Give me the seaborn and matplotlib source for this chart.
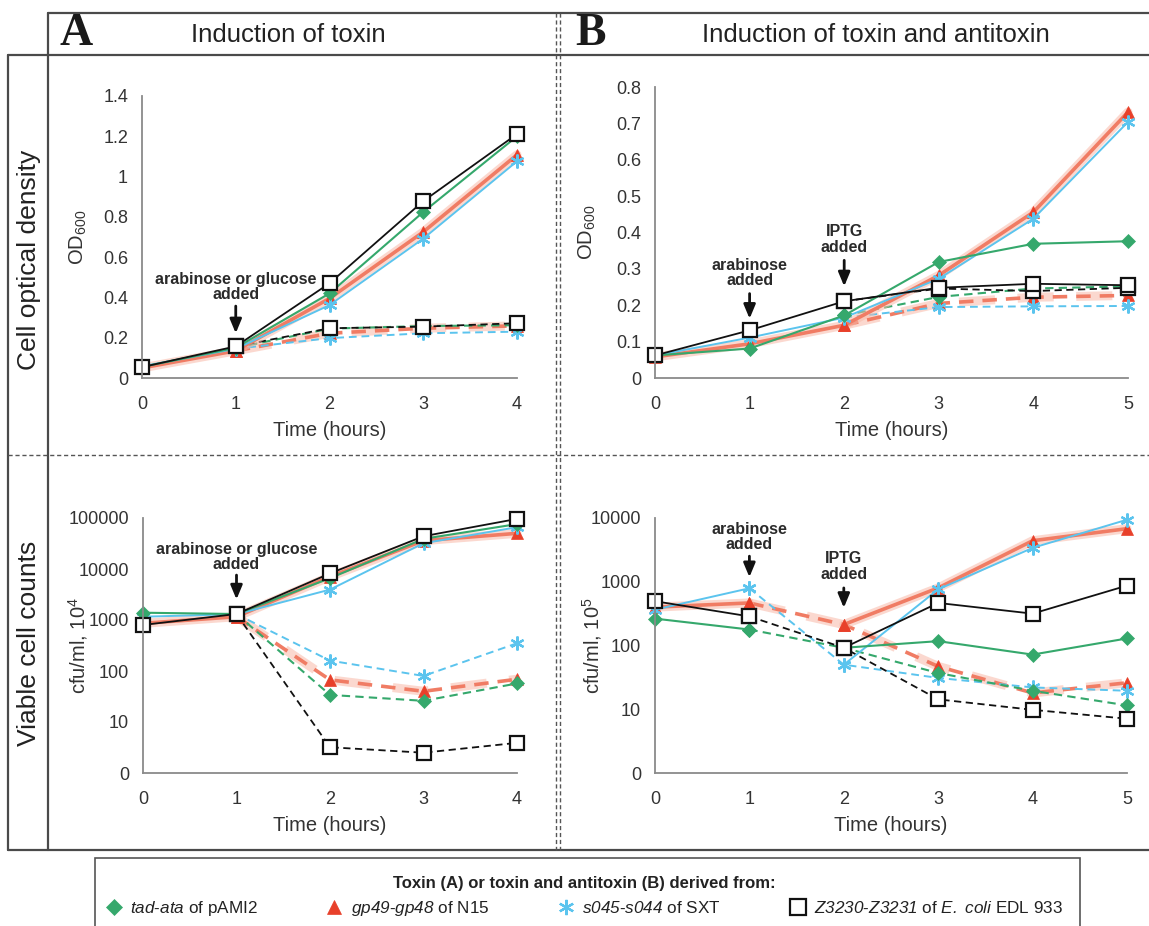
import matplotlib
matplotlib.use('Agg')
import matplotlib.pyplot as plt
import seaborn as sns
from matplotlib.lines import Line2D
from matplotlib.patches import Rectangle

# ---------------- data ----------------
# row order in every table: tad-ata, gp49-gp48, s045-s044, Z3230-Z3231
hours_a = [0, 1, 2, 3, 4]
hours_a_dash = [1, 2, 3, 4]
hours_b = [0, 1, 2, 3, 4, 5]
hours_b_dash = [2, 3, 4, 5]
hours_b_pre = [0, 1]
hours_b_iptg = [2, 3, 4, 5]
hours_b_cfu_dash = [1, 2, 3, 4, 5]

# A: optical density
od_a_solid = [
    [0.055, 0.150, 0.420, 0.824, 1.200],
    [0.050, 0.135, 0.395, 0.725, 1.108],
    [0.058, 0.145, 0.362, 0.692, 1.076],
    [0.054, 0.157, 0.470, 0.878, 1.211],
]
od_a_dash = [
    [0.150, 0.245, 0.258, 0.262],
    [0.135, 0.222, 0.247, 0.259],
    [0.145, 0.198, 0.222, 0.230],
    [0.157, 0.247, 0.255, 0.272],
]

# B: optical density
od_b_solid = [
    [0.062, 0.081, 0.172, 0.319, 0.369, 0.376],
    [0.058, 0.094, 0.145, 0.282, 0.456, 0.731],
    [0.062, 0.111, 0.166, 0.273, 0.438, 0.704],
    [0.062, 0.131, 0.211, 0.248, 0.259, 0.255],
]
od_b_dash = [
    [0.172, 0.223, 0.246, 0.252],
    [0.145, 0.205, 0.222, 0.227],
    [0.166, 0.195, 0.197, 0.198],
    [0.211, 0.246, 0.239, 0.248],
]

# A: viable counts (cfu/ml, x10^4)
cfu_a_solid = [
    [1390, 1310, 6600, 39000, 76000],
    [860, 1160, 7100, 36000, 50000],
    [1160, 1300, 3950, 32000, 66000],
    [800, 1310, 8200, 43900, 96000],
]
cfu_a_dash = [
    [1310, 34, 26, 57],
    [1160, 67, 40, 69],
    [1300, 160, 80, 350],
    [1310, 3.2, 2.5, 3.9],
]

# B: viable counts (cfu/ml, x10^5)
cfu_b_pre = [
    [264, 178],
    [400, 465],
    [365, 790],
    [495, 286],
]
cfu_b_iptg = [
    [92, 117, 72, 129],
    [213, 800, 4400, 6800],
    [50, 760, 3400, 9400],
    [92, 465, 316, 870],
]
cfu_b_dash = [
    [178, 92, 37, 19.5, 11.5],
    [465, 213, 47, 18, 26],
    [790, 50, 31, 22, 19.5],
    [286, 92, 14.3, 9.8, 7.1],
]

legend_labels = [
    r'$\mathsf{tad}$-$\mathsf{ata}$ of pAMI2',
    r'$\mathsf{gp49}$-$\mathsf{gp48}$ of N15',
    r'$\mathsf{s045}$-$\mathsf{s044}$ of SXT',
    r'$\mathsf{Z3230}$-$\mathsf{Z3231}$ of $\mathsf{E.}$ $\mathsf{coli}$ EDL 933',
]

# ---------------- styles ----------------
sns.set_theme(style='white')
plt.rcParams['font.family'] = ['Liberation Sans', 'DejaVu Sans']
plt.rcParams['mathtext.fontset'] = 'custom'
plt.rcParams['mathtext.rm'] = 'Liberation Sans'
plt.rcParams['mathtext.it'] = 'Liberation Sans:italic'
plt.rcParams['mathtext.sf'] = 'Liberation Sans:italic'

GREEN, RED, REDLINE, BLUE, BLACK = '#35a86c', '#e8402a', '#f07c64', '#5bc4ee', '#111111'
styles = [
    dict(color=GREEN, marker='D', markersize=7, markerfacecolor=GREEN,
         markeredgecolor=GREEN, markeredgewidth=0.5, linewidth=1.5),
    dict(color=REDLINE, marker='^', markersize=9, markerfacecolor=RED,
         markeredgecolor=RED, markeredgewidth=0.5, linewidth=2.6),
    dict(color=BLUE, marker=(6, 2, 0), markersize=10, markerfacecolor=BLUE,
         markeredgecolor=BLUE, markeredgewidth=1.6, linewidth=1.4),
    dict(color=BLACK, marker='s', markersize=10, markerfacecolor='white',
         markeredgecolor=BLACK, markeredgewidth=1.6, linewidth=1.3),
]
draw_order = [1, 2, 0, 3]

W, H = 1149, 926
fig = plt.figure(figsize=(W / 100, H / 100), dpi=100)


def fx(px):
    return px / W


def fy(py):
    return 1 - py / H


def add_axes(l, r, t, b):
    return fig.add_axes([fx(l), fy(b), fx(r) - fx(l), fy(t) - fy(b)])


def draw(ax, x, y, i, dashed=False):
    ls = (0, (4, 2.5)) if dashed else '-'
    if i == 1:
        sns.lineplot(x=x, y=y, ax=ax, color='#f9b9a8', linewidth=6.5,
                     linestyle=ls, alpha=0.55, clip_on=False)
    sns.lineplot(x=x, y=y, ax=ax, linestyle=ls, clip_on=False, **styles[i])


def style_axes(ax, xmax):
    sns.despine(ax=ax)
    for s in ('left', 'bottom'):
        ax.spines[s].set_color('#8a8a8a')
        ax.spines[s].set_linewidth(1.3)
    ax.set_xlim(0, xmax)
    ax.set_xticks(range(xmax + 1))
    ax.tick_params(axis='both', direction='out', length=4, width=1.2,
                   color='#8a8a8a', labelsize=13, labelcolor='#333333')
    ax.tick_params(axis='x', pad=9)
    ax.tick_params(axis='y', pad=6)
    ax.set_xlabel('Time (hours)', fontsize=14.5, color='#333333', labelpad=6)
    ax.set_facecolor('none')


def arrow(ax, x, text, text_y, start, tip):
    ax.text(x, text_y, text, ha='center', va='bottom', fontsize=11.5,
            fontweight='bold', color='#2a2a2a', linespacing=1.05)
    ax.annotate('', xy=(x, tip), xytext=(x, start),
                arrowprops=dict(arrowstyle='-|>,head_length=0.6,head_width=0.25',
                                color='#111111', lw=2, shrinkA=0, shrinkB=0,
                                mutation_scale=14))


ax_a1 = add_axes(142, 517, 96, 378)
ax_b1 = add_axes(655, 1128, 87, 378)
ax_a2 = add_axes(143, 517, 518, 773)
ax_b2 = add_axes(655, 1127, 518, 773)

# panel A, OD
for i in draw_order:
    draw(ax_a1, hours_a_dash, od_a_dash[i], i, dashed=True)
for i in draw_order:
    draw(ax_a1, hours_a, od_a_solid[i], i)
style_axes(ax_a1, 4)
ax_a1.set_ylim(0, 1.4)
ax_a1.set_yticks([0, 0.2, 0.4, 0.6, 0.8, 1.0, 1.2, 1.4])
ax_a1.set_yticklabels(['0', '0.2', '0.4', '0.6', '0.8', '1', '1.2', '1.4'])
ax_a1.set_ylabel('OD$_{600}$', fontsize=14.5, color='#333333', va='center')
ax_a1.yaxis.set_label_coords(-0.17, 0.5)
arrow(ax_a1, 1, 'arabinose or glucose\nadded', 0.375, 0.357, 0.222)

# panel B, OD
for i in draw_order:
    draw(ax_b1, hours_b_dash, od_b_dash[i], i, dashed=True)
for i in draw_order:
    draw(ax_b1, hours_b, od_b_solid[i], i)
style_axes(ax_b1, 5)
ax_b1.set_ylim(0, 0.8)
ax_b1.set_yticks([0, 0.1, 0.2, 0.3, 0.4, 0.5, 0.6, 0.7, 0.8])
ax_b1.set_yticklabels(['0', '0.1', '0.2', '0.3', '0.4', '0.5', '0.6', '0.7', '0.8'])
ax_b1.set_ylabel('OD$_{600}$', fontsize=14.5, color='#333333', va='center')
ax_b1.yaxis.set_label_coords(-0.142, 0.5)
arrow(ax_b1, 1, 'arabinose\nadded', 0.247, 0.232, 0.163)
arrow(ax_b1, 2, 'IPTG\nadded', 0.338, 0.3235, 0.252)

log_ticks = [1, 10, 100, 1000, 10000, 100000]
log_labels = ['0', '10', '100', '1000', '10000', '100000']

# panel A, counts
for i in draw_order:
    draw(ax_a2, hours_a_dash, cfu_a_dash[i], i, dashed=True)
for i in draw_order:
    draw(ax_a2, hours_a, cfu_a_solid[i], i)
style_axes(ax_a2, 4)
ax_a2.set_yscale('log')
ax_a2.set_ylim(1, 100000)
ax_a2.set_yticks(log_ticks)
ax_a2.set_yticklabels(log_labels)
ax_a2.minorticks_off()
ax_a2.set_ylabel('cfu/ml, 10$^4$', fontsize=14.5, color='#333333', va='center')
ax_a2.yaxis.set_label_coords(-0.174, 0.5)
arrow(ax_a2, 1, 'arabinose or glucose\nadded', 8600, 7600, 2530)

# panel B, counts
for i in draw_order:
    draw(ax_b2, hours_b_cfu_dash, cfu_b_dash[i], i, dashed=True)
for i in draw_order:
    draw(ax_b2, hours_b_pre, cfu_b_pre[i], i)
    draw(ax_b2, hours_b_iptg, cfu_b_iptg[i], i)
style_axes(ax_b2, 5)
ax_b2.set_yscale('log')
ax_b2.set_ylim(1, 10000)
ax_b2.set_yticks(log_ticks[:5])
ax_b2.set_yticklabels(log_labels[:5])
ax_b2.minorticks_off()
ax_b2.set_ylabel('cfu/ml, 10$^5$', fontsize=14.5, color='#333333', va='center')
ax_b2.yaxis.set_label_coords(-0.133, 0.5)
arrow(ax_b2, 1, 'arabinose\nadded', 2900, 2520, 1180)
arrow(ax_b2, 2, 'IPTG\nadded', 1000, 800, 390)

# ---------------- frame of the figure ----------------
frame = dict(color='#4a4a4a', linewidth=1.6)


def hline(y, x0, x1, **kw):
    fig.add_artist(Line2D([fx(x0), fx(x1)], [fy(y), fy(y)], **kw))


def vline(x, y0, y1, **kw):
    fig.add_artist(Line2D([fx(x), fx(x)], [fy(y0), fy(y1)], **kw))


hline(13, 48, W, **frame)
hline(55, 8, W, **frame)
hline(850, 8, W, **frame)
vline(8, 55, 850, **frame)
vline(48, 13, 850, **frame)
dotted = dict(color='#555555', linewidth=1.0, linestyle=(0, (3, 2)))
hline(455, 8, W, **dotted)
vline(556, 13, 850, **dotted)
vline(560, 13, 850, **dotted)

fig.text(fx(76), fy(34), 'A', fontsize=33, fontweight='bold',
         family=['Liberation Serif', 'DejaVu Serif'], ha='center', va='center', color='#1a1a1a')
fig.text(fx(590), fy(34), 'B', fontsize=33, fontweight='bold',
         family=['Liberation Serif', 'DejaVu Serif'], ha='center', va='center', color='#1a1a1a')
fig.text(fx(288), fy(35), 'Induction of toxin', fontsize=18.5,
         ha='center', va='center', color='#222222')
fig.text(fx(876), fy(35), 'Induction of toxin and antitoxin', fontsize=18.5,
         ha='center', va='center', color='#222222')
fig.text(fx(29), fy(260), 'Cell optical density', fontsize=19, rotation=90,
         ha='center', va='center', color='#222222')
fig.text(fx(29), fy(643), 'Viable cell counts', fontsize=19, rotation=90,
         ha='center', va='center', color='#222222')

# ---------------- legend ----------------
fig.add_artist(Rectangle((fx(95), fy(940)), fx(1080) - fx(95), fy(858) - fy(940),
                         fill=False, edgecolor='#555555', linewidth=1.2,
                         transform=fig.transFigure))
handles = []
for i in range(4):
    st = styles[i]
    handles.append(Line2D([], [], linestyle='None', marker=st['marker'],
                          markersize=st['markersize'] + 1,
                          markerfacecolor=st['markerfacecolor'] if i != 1 else RED,
                          markeredgecolor=st['markeredgecolor'],
                          markeredgewidth=st['markeredgewidth']))
leg = fig.legend(handles, legend_labels, ncol=4, loc='center',
                 bbox_to_anchor=(fx(584), fy(897)), frameon=False,
                 fontsize=12.3, handlelength=1.0, handletextpad=0.45,
                 columnspacing=4.0,
                 title='Toxin (A) or toxin and antitoxin (B) derived from:',
                 title_fontproperties={'weight': 'bold', 'size': 12})
leg.get_title().set_color('#222222')
for t in leg.get_texts():
    t.set_color('#222222')

fig.savefig('out.png', dpi=100)
